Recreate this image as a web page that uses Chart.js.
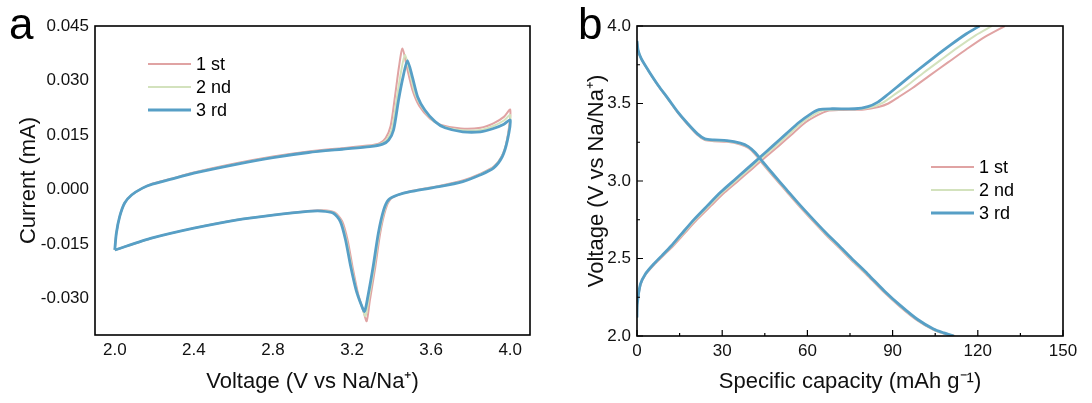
<!DOCTYPE html>
<html>
<head>
<meta charset="utf-8">
<script src="https://cdn.jsdelivr.net/npm/chart.js@4.4.0/dist/chart.umd.min.js"></script>
<style>
  body { margin: 0; background: #fff; width: 1092px; height: 403px; overflow: hidden; position: relative; font-family: "Liberation Sans", Arial, sans-serif; }
  .wrap { position: absolute; top: 0; height: 403px; }
  .tag { position: absolute; font-size: 44px; line-height: 44px; color: #000; }
</style>
</head>
<body>
<div class="wrap" style="left:0;width:545px"><canvas id="cv"></canvas></div>
<div class="wrap" style="left:560px;width:532px"><canvas id="gcd"></canvas></div>
<div class="tag" style="left:9px;top:2px">a</div>
<div class="tag" style="left:578px;top:2px">b</div>
<script>
// ---- panel a: CV, three cycles ----
const cycleNames = ['1 st', '2 nd', '3 rd'];
const cycleColors = ['#e0a3a3', '#d3e2bd', '#579fc6'];
const cycleWidths = [2, 2, 2.8];

const cv1V = [2.000, 2.008, 2.025, 2.050, 2.085, 2.140, 2.190, 2.280, 2.400, 2.620, 2.800, 2.980, 3.150, 3.280, 3.340, 3.370, 3.395, 3.418, 3.438, 3.455, 3.478, 3.505, 3.540, 3.595, 3.650, 3.750, 3.850, 3.915, 3.968, 4.000,
  3.988, 3.965, 3.920, 3.850, 3.760, 3.640, 3.500, 3.440, 3.395, 3.370, 3.343, 3.317, 3.290, 3.274, 3.258, 3.232, 3.205, 3.178, 3.150, 3.112, 3.050, 2.976, 2.800, 2.620, 2.400, 2.190, 2.000];
const cv1I = [-0.0166, -0.0120, -0.0074, -0.0037, -0.0015, 0.0004, 0.0016, 0.0029, 0.0047, 0.0073, 0.0091, 0.0105, 0.0114, 0.0121, 0.0128, 0.0142, 0.0175, 0.0260, 0.0340, 0.0388, 0.0335, 0.0275, 0.0230, 0.0195, 0.0178, 0.0168, 0.0170, 0.0182, 0.0200, 0.0220,
  0.0150, 0.0101, 0.0065, 0.0044, 0.0025, 0.0010, -0.0004, -0.0013, -0.0026, -0.0054, -0.0118, -0.0215, -0.0305, -0.0362, -0.0335, -0.0290, -0.0220, -0.0140, -0.0087, -0.0063, -0.0057, -0.0059, -0.0070, -0.0083, -0.0106, -0.0133, -0.0166];

const cv2V = [2.000, 2.008, 2.025, 2.050, 2.085, 2.140, 2.190, 2.280, 2.400, 2.620, 2.800, 2.980, 3.150, 3.285, 3.348, 3.378, 3.403, 3.427, 3.448, 3.468, 3.492, 3.518, 3.555, 3.608, 3.660, 3.755, 3.850, 3.915, 3.968, 4.000,
  3.987, 3.962, 3.917, 3.848, 3.760, 3.640, 3.500, 3.435, 3.390, 3.365, 3.338, 3.312, 3.285, 3.268, 3.252, 3.226, 3.199, 3.172, 3.145, 3.109, 3.047, 2.976, 2.800, 2.620, 2.400, 2.190, 2.000];
const cv2I = [-0.0166, -0.0120, -0.0074, -0.0037, -0.0015, 0.0004, 0.0015, 0.0028, 0.0046, 0.0071, 0.0089, 0.0103, 0.0112, 0.0119, 0.0126, 0.0139, 0.0169, 0.0253, 0.0325, 0.0371, 0.0322, 0.0265, 0.0225, 0.0191, 0.0174, 0.0163, 0.0164, 0.0175, 0.0190, 0.0205,
  0.0143, 0.0096, 0.0062, 0.0042, 0.0023, 0.0009, -0.0005, -0.0014, -0.0027, -0.0055, -0.0119, -0.0213, -0.0300, -0.0348, -0.0325, -0.0283, -0.0216, -0.0139, -0.0088, -0.0064, -0.0058, -0.0060, -0.0070, -0.0083, -0.0106, -0.0133, -0.0166];

const cv3V = [2.000, 2.008, 2.025, 2.050, 2.085, 2.140, 2.190, 2.280, 2.400, 2.620, 2.800, 2.980, 3.150, 3.290, 3.355, 3.385, 3.410, 3.435, 3.458, 3.480, 3.505, 3.532, 3.568, 3.620, 3.670, 3.760, 3.850, 3.915, 3.968, 4.000,
  3.986, 3.960, 3.915, 3.847, 3.760, 3.640, 3.500, 3.430, 3.385, 3.360, 3.333, 3.307, 3.280, 3.263, 3.246, 3.220, 3.193, 3.167, 3.141, 3.106, 3.045, 2.976, 2.800, 2.620, 2.400, 2.190, 2.000];
const cv3I = [-0.0166, -0.0120, -0.0074, -0.0037, -0.0015, 0.0004, 0.0015, 0.0028, 0.0045, 0.0070, 0.0088, 0.0102, 0.0111, 0.0118, 0.0125, 0.0136, 0.0164, 0.0246, 0.0310, 0.0355, 0.0310, 0.0255, 0.0219, 0.0187, 0.0170, 0.0159, 0.0159, 0.0168, 0.0180, 0.0191,
  0.0136, 0.0091, 0.0059, 0.0040, 0.0022, 0.0008, -0.0005, -0.0015, -0.0028, -0.0056, -0.0120, -0.0211, -0.0294, -0.0335, -0.0316, -0.0275, -0.0211, -0.0138, -0.0088, -0.0065, -0.0059, -0.0060, -0.0070, -0.0083, -0.0106, -0.0133, -0.0166];

const cvXTicks = [2.0, 2.4, 2.8, 3.2, 3.6, 4.0];
const cvYTicks = [-0.030, -0.015, 0.000, 0.015, 0.030, 0.045];

// ---- panel b: charge / discharge, three cycles ----
const dis1Cap = [0, 0.4, 1.5, 4.0, 7.5, 11.0, 14.4, 17.9, 21.3, 23.9, 27.1, 31.7, 36.4, 39.2, 41.5, 44.4, 47.9, 52.5, 57.1, 61.7, 66.4, 71.0, 75.6, 81.3, 87.1, 92.9, 98.7, 104.4, 108.0, 112.0];
const dis1V = [3.903, 3.843, 3.788, 3.711, 3.613, 3.526, 3.439, 3.363, 3.297, 3.264, 3.257, 3.253, 3.236, 3.213, 3.174, 3.108, 3.032, 2.935, 2.838, 2.746, 2.655, 2.572, 2.487, 2.387, 2.280, 2.184, 2.100, 2.039, 2.016, 2.000];
const dis2Cap = [0, 0.4, 1.5, 4.0, 7.5, 11.0, 14.4, 17.9, 21.3, 23.9, 27.1, 31.7, 36.4, 39.2, 41.5, 44.4, 47.9, 52.5, 57.1, 61.7, 66.4, 71.0, 75.6, 81.3, 87.1, 92.9, 98.7, 104.4, 108.0, 111.8];
const dis2V = [3.903, 3.843, 3.789, 3.712, 3.615, 3.528, 3.442, 3.366, 3.301, 3.268, 3.261, 3.257, 3.240, 3.218, 3.180, 3.114, 3.038, 2.941, 2.844, 2.752, 2.661, 2.578, 2.493, 2.393, 2.285, 2.189, 2.104, 2.042, 2.018, 2.000];
const dis3Cap = [0, 0.4, 1.5, 4.0, 7.5, 11.0, 14.4, 17.9, 21.3, 23.9, 27.1, 31.7, 36.4, 39.2, 41.5, 44.4, 47.9, 52.5, 57.1, 61.7, 66.4, 71.0, 75.6, 81.3, 87.1, 92.9, 98.7, 104.4, 108.0, 111.5];
const dis3V = [3.903, 3.843, 3.789, 3.713, 3.616, 3.530, 3.444, 3.369, 3.304, 3.272, 3.265, 3.261, 3.244, 3.222, 3.185, 3.121, 3.045, 2.948, 2.851, 2.759, 2.668, 2.585, 2.500, 2.399, 2.291, 2.194, 2.108, 2.045, 2.020, 2.000];

const chg1Cap = [0, 0.1, 1.3, 3.1, 6.2, 9.2, 12.8, 16.5, 21.3, 26.1, 30.9, 35.7, 40.5, 45.2, 50.0, 54.7, 59.4, 63.6, 67.0, 72.0, 80.0, 85.0, 88.5, 92.0, 97.0, 103.0, 109.5, 116.0, 122.5, 129.5];
const chg1V = [2.119, 2.205, 2.334, 2.399, 2.463, 2.517, 2.582, 2.657, 2.754, 2.841, 2.927, 3.002, 3.078, 3.153, 3.228, 3.304, 3.379, 3.425, 3.452, 3.458, 3.462, 3.478, 3.500, 3.540, 3.600, 3.680, 3.765, 3.850, 3.930, 4.000];
const chg2Cap = [0, 0.1, 1.2, 3.0, 6.0, 8.9, 12.4, 16.0, 20.7, 25.4, 30.1, 34.8, 39.6, 44.2, 48.9, 53.6, 58.2, 62.4, 65.5, 70.3, 78.3, 83.1, 86.6, 90.1, 95.0, 100.8, 106.9, 113.0, 119.2, 125.0];
const chg2V = [2.119, 2.205, 2.334, 2.399, 2.463, 2.517, 2.582, 2.657, 2.754, 2.841, 2.927, 3.002, 3.078, 3.153, 3.228, 3.304, 3.379, 3.429, 3.456, 3.462, 3.464, 3.479, 3.505, 3.550, 3.614, 3.697, 3.780, 3.862, 3.940, 4.000];
const chg3Cap = [0, 0.1, 1.2, 2.9, 5.8, 8.7, 12.1, 15.6, 20.2, 24.8, 29.4, 34.0, 38.7, 43.3, 47.9, 52.5, 57.1, 61.2, 64.0, 68.7, 76.7, 81.3, 84.8, 88.3, 92.9, 98.7, 104.4, 110.2, 116.0, 120.6];
const chg3V = [2.119, 2.205, 2.334, 2.399, 2.463, 2.517, 2.582, 2.657, 2.754, 2.841, 2.927, 3.002, 3.078, 3.153, 3.228, 3.304, 3.379, 3.433, 3.461, 3.466, 3.466, 3.480, 3.509, 3.558, 3.627, 3.713, 3.795, 3.875, 3.950, 4.000];

const capXTicks = [0, 30, 60, 90, 120, 150];
const capXMinor = [15, 45, 75, 105, 135];
const capYTicks = [2.0, 2.5, 3.0, 3.5, 4.0];
const capYMinor = [2.25, 2.75, 3.25, 3.75];

const FONT = '"Liberation Sans", Arial, sans-serif';

function pts(xs, ys) {
  return xs.map((x, i) => ({ x: x, y: ys[i] }));
}

// later cycles are painted over earlier ones (lower order = drawn on top)
function lineSet(label, data, i, inLegend) {
  return {
    label: label,
    data: data,
    showLine: true,
    order: 2 - i,
    borderColor: cycleColors[i],
    backgroundColor: cycleColors[i],
    borderWidth: cycleWidths[i],
    pointRadius: 0,
    tension: 0.25,
    fill: false,
    inLegend: inLegend !== false
  };
}

const frame = {
  id: 'frame',
  afterDraw(chart, args, opts) {
    const ctx = chart.ctx;
    const a = chart.chartArea;
    ctx.save();
    // inward tick marks (panel b only)
    if (opts.ticks) {
      const xs = chart.scales.x, ys = chart.scales.y;
      ctx.strokeStyle = '#000';
      ctx.lineWidth = 1.2;
      ctx.beginPath();
      opts.ticks.xMajor.forEach(v => { const p = xs.getPixelForValue(v); ctx.moveTo(p, a.bottom); ctx.lineTo(p, a.bottom - 6); });
      opts.ticks.xMinor.forEach(v => { const p = xs.getPixelForValue(v); ctx.moveTo(p, a.bottom); ctx.lineTo(p, a.bottom - 3); });
      opts.ticks.yMajor.forEach(v => { const p = ys.getPixelForValue(v); ctx.moveTo(a.left, p); ctx.lineTo(a.left + 6, p); });
      opts.ticks.yMinor.forEach(v => { const p = ys.getPixelForValue(v); ctx.moveTo(a.left, p); ctx.lineTo(a.left + 3, p); });
      ctx.stroke();
    }
    ctx.strokeStyle = '#000';
    ctx.lineWidth = 1.6;
    ctx.strokeRect(a.left, a.top, a.right - a.left, a.bottom - a.top);
    // legend: one entry per cycle
    const lg = opts.legend;
    ctx.font = '18px ' + FONT;
    ctx.textBaseline = 'middle';
    ctx.fillStyle = '#000';
    chart.data.datasets.filter(ds => ds.inLegend).forEach((ds, i) => {
      const y = lg.y + i * lg.gap;
      ctx.strokeStyle = ds.borderColor;
      ctx.lineWidth = ds.borderWidth;
      ctx.beginPath();
      ctx.moveTo(lg.x, y);
      ctx.lineTo(lg.x + lg.len, y);
      ctx.stroke();
      ctx.fillText(ds.label, lg.x + lg.len + 5, y + 1);
    });
    ctx.restore();
  }
};

function axis(opts) {
  return Object.assign({
    type: 'linear',
    grid: { display: false, drawTicks: false },
    border: { display: false }
  }, opts);
}

const tickFont = { family: FONT, size: 17 };
const titleFont = { family: FONT, size: 22 };
const setTicks = list => scale => { scale.ticks = list.map(v => ({ value: v })); };

new Chart(document.getElementById('cv'), {
  type: 'scatter',
  data: {
    datasets: [
      lineSet(cycleNames[0], pts(cv1V, cv1I), 0),
      lineSet(cycleNames[1], pts(cv2V, cv2I), 1),
      lineSet(cycleNames[2], pts(cv3V, cv3I), 2)
    ]
  },
  options: {
    responsive: true,
    maintainAspectRatio: false,
    animation: false,
    layout: { padding: { left: 0, top: 26, right: 15, bottom: 0 } },
    plugins: {
      legend: { display: false },
      tooltip: { enabled: false },
      frame: { legend: { x: 148, y: 64, gap: 23, len: 43 } }
    },
    scales: {
      x: axis({
        min: 1.9, max: 4.1,
        afterBuildTicks: setTicks(cvXTicks),
        afterFit: s => { s.height = 68; },
        ticks: { color: '#111', padding: 5, font: tickFont, callback: v => v.toFixed(1) },
        title: { display: true, text: 'Voltage (V vs Na/Na\u207A)', color: '#111', padding: { top: 0, bottom: 8 }, font: titleFont }
      }),
      y: axis({
        min: -0.040, max: 0.045,
        afterBuildTicks: setTicks(cvYTicks),
        afterFit: s => { s.width = 95; },
        ticks: { color: '#111', padding: 6, font: tickFont, callback: v => v.toFixed(3) },
        title: { display: true, text: 'Current (mA)', color: '#111', padding: { top: 16, bottom: 0 }, font: titleFont }
      })
    }
  },
  plugins: [frame]
});

new Chart(document.getElementById('gcd'), {
  type: 'scatter',
  data: {
    datasets: [
      lineSet(cycleNames[0], pts(dis1Cap, dis1V), 0),
      lineSet(cycleNames[0], pts(chg1Cap, chg1V), 0, false),
      lineSet(cycleNames[1], pts(dis2Cap, dis2V), 1),
      lineSet(cycleNames[1], pts(chg2Cap, chg2V), 1, false),
      lineSet(cycleNames[2], pts(dis3Cap, dis3V), 2),
      lineSet(cycleNames[2], pts(chg3Cap, chg3V), 2, false)
    ]
  },
  options: {
    responsive: true,
    maintainAspectRatio: false,
    animation: false,
    layout: { padding: { left: 0, top: 26, right: 29, bottom: 0 } },
    plugins: {
      legend: { display: false },
      tooltip: { enabled: false },
      frame: {
        legend: { x: 371, y: 167, gap: 23, len: 43 },
        ticks: { xMajor: capXTicks, xMinor: capXMinor, yMajor: capYTicks, yMinor: capYMinor }
      }
    },
    scales: {
      x: axis({
        min: 0, max: 150,
        afterBuildTicks: setTicks(capXTicks),
        afterFit: s => { s.height = 67; },
        ticks: { color: '#111', padding: 5, font: tickFont, callback: v => String(v) },
        title: { display: true, text: 'Specific capacity (mAh g\u207B\u00B9)', color: '#111', padding: { top: 0, bottom: 8 }, font: titleFont }
      }),
      y: axis({
        min: 2.0, max: 4.0,
        afterBuildTicks: setTicks(capYTicks),
        afterFit: s => { s.width = 77; },
        ticks: { color: '#111', padding: 6, font: tickFont, callback: v => v.toFixed(1) },
        title: { display: true, text: 'Voltage (V vs Na/Na\u207A)', color: '#111', padding: { top: 24, bottom: 0 }, font: titleFont }
      })
    }
  },
  plugins: [frame]
});
</script>
</body>
</html>
